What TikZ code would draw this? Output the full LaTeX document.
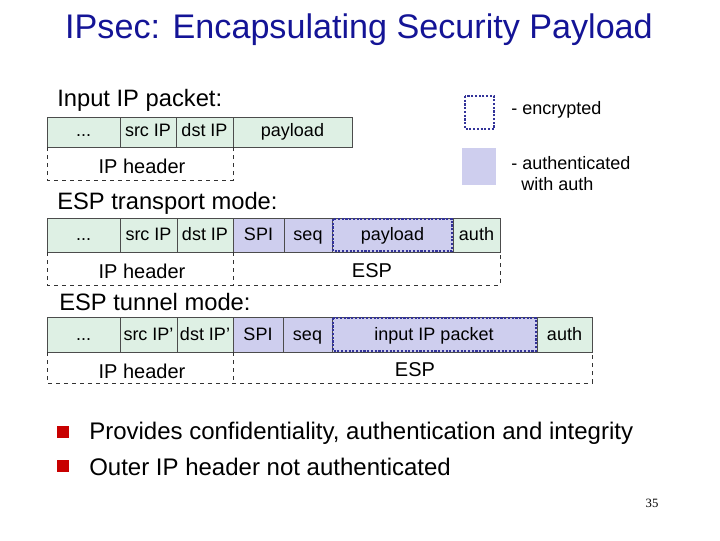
\documentclass[tikz,border=0pt]{standalone}
\usepackage{fontspec}
\setmainfont{Liberation Sans}
\newfontfamily\serifnum{Liberation Serif}
\definecolor{cgreen}{RGB}{222,240,228}
\definecolor{cpurp}{RGB}{206,206,238}
\definecolor{cnavy}{RGB}{51,51,153}
\definecolor{ctitle}{RGB}{20,20,150}
\definecolor{cred}{RGB}{200,0,0}
\begin{document}
\begin{tikzpicture}[x=0.75pt,y=-0.75pt,
  gcell/.style={draw=black!70,fill=cgreen,line width=0.6pt},
  pcell/.style={draw=black!70,fill=cpurp,line width=0.6pt},
  enc/.style={draw=cnavy,line width=2.2pt,dash pattern=on 1.6pt off 1.2pt},
  dbox/.style={draw=black!80,dashed,line width=0.5pt},
  ct/.style={font=\fontsize{13.5}{15}\selectfont,inner sep=0pt,text height=9.5pt,text depth=2.5pt},
  hd/.style={font=\fontsize{17.8}{20}\selectfont,inner sep=0pt,anchor=west},
  bl/.style={font=\fontsize{18}{20}\selectfont,inner sep=0pt,anchor=west},
  lab/.style={font=\fontsize{15}{17}\selectfont,inner sep=0pt}]
\useasboundingbox (0,0) rectangle (720,540);
\node[font=\fontsize{25.6}{30}\selectfont,text=ctitle] (title) at (359,30) {IPsec: Encapsulating Security Payload};
% legend
\draw[enc] (465,96) rectangle (494,129);
\node[ct,anchor=west] (le) at (511,110) {- encrypted};
\fill[cpurp] (462,148) rectangle (496,185);
\node[ct,anchor=west] (la) at (511,165) {- authenticated};
\node[ct,anchor=west] (la2) at (521,186) {with auth};
% row 1
\node[hd] (h1) at (57,100) {Input IP packet:};
\draw[gcell] (47,117) rectangle (120,147); \node[ct] (a1) at (83.5,132) {...};
\draw[gcell] (120,117) rectangle (176,147); \node[ct] (a2) at (148,132) {src IP};
\draw[gcell] (176,117) rectangle (233,147); \node[ct] (a3) at (204.5,132) {dst IP};
\draw[gcell] (233,117) rectangle (352,147); \node[ct] (a4) at (292.5,132) {payload};
\draw[dbox] (47,147) -- (47,180) -- (233,180) -- (233,147);
\node[lab] (a5) at (142,166) {IP header};
% row 2
\node[hd] (h2) at (57,203) {ESP transport mode:};
\draw[gcell] (47,218) rectangle (120,252); \node[ct] (b1) at (83.5,236) {...};
\draw[gcell] (120,218) rectangle (177,252); \node[ct] (b2) at (148.5,236) {src IP};
\draw[gcell] (177,218) rectangle (233,252); \node[ct] (b3) at (205,236) {dst IP};
\draw[pcell] (233,218) rectangle (284,252); \node[ct] (b4) at (258.5,236) {SPI};
\draw[pcell] (284,218) rectangle (332,252); \node[ct] (b5) at (308,236) {seq};
\draw[pcell] (332,218) rectangle (453,252);
\draw[gcell] (453,218) rectangle (500,252); \node[ct] (b7) at (476.5,236) {auth};
\draw[enc] (333,219) rectangle (452,251); \node[ct] (b6) at (392.5,236) {payload};
\draw[dbox] (47,252) -- (47,285) -- (500,285) -- (500,252);
\draw[dbox] (233,252) -- (233,285);
\node[lab] (b8) at (142,271) {IP header};
\node[lab] (b9) at (372,271) {ESP};
% row 3
\node[hd] (h3) at (59,302) {ESP tunnel mode:};
\draw[gcell] (47,317) rectangle (120,352); \node[ct] (c1) at (83.5,335.5) {...};
\draw[gcell] (120,317) rectangle (177,352); \node[ct] (c2) at (148.5,335.5) {src IP’};
\draw[gcell] (177,317) rectangle (233,352); \node[ct] (c3) at (205,335.5) {dst IP’};
\draw[pcell] (233,317) rectangle (283,352); \node[ct] (c4) at (258,335.5) {SPI};
\draw[pcell] (283,317) rectangle (332,352); \node[ct] (c5) at (307.5,335.5) {seq};
\draw[pcell] (332,317) rectangle (537,352);
\draw[gcell] (537,317) rectangle (592,352); \node[ct] (c7) at (564.5,335.5) {auth};
\draw[enc] (333,318) rectangle (536,351); \node[ct] (c6) at (434,335.5) {input IP packet};
\draw[dbox] (47,352) -- (47,383) -- (592,383) -- (592,352);
\draw[dbox] (233,352) -- (233,383);
\node[lab] (c8) at (142,371) {IP header};
\node[lab] (c9) at (415,370) {ESP};
% bullets
\fill[cred] (57,426) rectangle (69,438);
\node[bl] (p1) at (89,433) {Provides confidentiality, authentication and integrity};
\fill[cred] (57,460) rectangle (69,472);
\node[bl] (p2) at (89,467) {Outer IP header not authenticated};
\node[font=\serifnum\fontsize{9.5}{11}\selectfont] (pg) at (652,503) {35};
\end{tikzpicture}
\end{document}
